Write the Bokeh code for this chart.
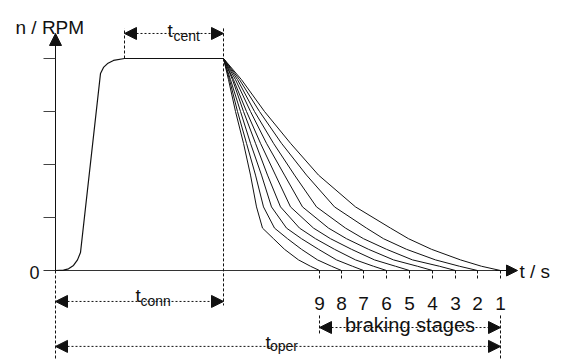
from bokeh.plotting import figure
from bokeh.models import Range1d, Arrow, NormalHead
from bokeh.core.properties import value
from bokeh.embed import file_html
from bokeh.resources import INLINE

# ---- data (t in s, n in % of full speed) ----
stage_labels = ["9", "8", "7", "6", "5", "4", "3", "2", "1"]
n_ticks = [25, 50, 75, 100]
startup_t = [0, 8, 13, 18, 22, 25, 45, 48, 52, 58, 69, 168]
startup_n = [0, 0.2, 0.8, 2.4, 5.0, 8.5, 92.9, 95.8, 97.6, 99.1, 100, 100]
t_plateau_start = 69
brake_levels = [100, 90, 75, 60, 45, 30, 20, 15, 10, 5, 2, 0]
brake_t_9 = [168, 173, 180, 188, 195, 201, 207, 218, 229, 243, 255, 264]
brake_t_8 = [168, 174, 182, 191, 200, 208, 219, 232, 246, 262, 276, 286]
brake_t_7 = [168, 175, 185, 195, 206, 216, 231, 246, 263, 281, 297, 308]
brake_t_6 = [168, 177, 188, 200, 212, 225, 244, 260, 279, 300, 318, 331]
brake_t_5 = [168, 178, 191, 205, 220, 235, 258, 275, 296, 319, 340, 354]
brake_t_4 = [168, 180, 195, 211, 229, 247, 273, 291, 313, 338, 362, 377]
brake_t_3 = [168, 182, 199, 218, 239, 261, 290, 308, 331, 357, 384, 400]
brake_t_2 = [168, 184, 204, 226, 251, 279, 311, 328, 351, 380, 404, 422]
brake_t_1 = [168, 186, 209, 235, 263, 300, 335, 353, 376, 405, 426, 445]
brake_curves = [brake_t_9, brake_t_8, brake_t_7, brake_t_6, brake_t_5,
                brake_t_4, brake_t_3, brake_t_2, brake_t_1]

t_brake_start = brake_t_9[0]
t_stops = [c[-1] for c in brake_curves]
n_max = max(startup_n)

W, H = 567, 360
p = figure(width=W, height=H, output_backend="svg", toolbar_location=None,
           x_range=Range1d(-55, W - 55), y_range=Range1d(-(H - 270) / 2.12, 270 / 2.12),
           min_border=0, outline_line_color=None)
p.axis.visible = False
p.grid.visible = False
p.background_fill_color = "white"
p.border_fill_color = "white"

FONT = value("Liberation Sans")
ink = "#111111"
y_bot = p.y_range.start

# axes
p.segment(x0=[0], y0=[0], x1=[0], y1=[108], line_color=ink, line_width=1)
p.add_layout(Arrow(x_start=0, y_start=100, x_end=0, y_end=111.8, line_color=ink,
                   end=NormalHead(size=12, fill_color=ink, line_color=ink), start=None))
p.segment(x0=[-12], y0=[0], x1=[455], y1=[0], line_color="#333333", line_width=1)
p.add_layout(Arrow(x_start=440, y_start=0, x_end=462, y_end=0, line_color=ink,
                   end=NormalHead(size=11, fill_color=ink, line_color=ink), start=None))
p.segment(x0=[-12] * len(n_ticks), y0=n_ticks, x1=[0] * len(n_ticks), y1=n_ticks,
          line_color="#444444", line_width=1)
p.text(x=[-16], y=[-1], text=["0"], text_font=FONT, text_font_size="18px",
       text_align="right", text_baseline="middle", text_color=ink)
p.text(x=[-40], y=[114.6], text=["n / RPM"], text_font=FONT, text_font_size="19px",
       text_align="left", text_baseline="alphabetic", text_color=ink)
p.text(x=[464], y=[-0.5], text=["t / s"], text_font=FONT, text_font_size="19px",
       text_align="left", text_baseline="middle", text_color=ink)

# curves
p.line(startup_t, startup_n, line_color=ink, line_width=1.2)
for c in brake_curves:
    p.line(c, brake_levels, line_color=ink, line_width=1)

# dashed guide lines
dash = "3 2"
top_guide = 114.2
p.segment(x0=[0], y0=[0], x1=[0], y1=[y_bot], line_color=ink, line_dash=dash)
p.segment(x0=[t_plateau_start], y0=[n_max], x1=[t_plateau_start], y1=[top_guide],
          line_color=ink, line_dash=dash)
p.segment(x0=[t_brake_start], y0=[top_guide], x1=[t_brake_start], y1=[-16.5],
          line_color=ink, line_dash=dash)
p.segment(x0=t_stops, y0=[0] * 9, x1=t_stops, y1=[-4.7] * 9, line_color=ink, line_dash=dash)
p.segment(x0=[t_stops[0]], y0=[-21.2], x1=[t_stops[0]], y1=[-29.7], line_color=ink, line_dash=dash)
p.segment(x0=[t_stops[-1]], y0=[-21.2], x1=[t_stops[-1]], y1=[y_bot], line_color=ink, line_dash=dash)

# stage labels
p.text(x=t_stops, y=[-15.6] * 9, text=stage_labels, text_font=FONT, text_font_size="19px",
       text_align="center", text_baseline="alphabetic", text_color=ink)

def dim(x0, x1, y):
    p.add_layout(Arrow(x_start=x0, y_start=y, x_end=x1, y_end=y, line_color=ink,
                       line_width=1, line_dash="2 2",
                       start=NormalHead(size=12, fill_color=ink, line_color=ink),
                       end=NormalHead(size=12, fill_color=ink, line_color=ink)))

def sublabel(x, y, sub, y_sub, x_sub):
    p.text(x=[x], y=[y], text=["t"], text_font=FONT, text_font_size="19px",
           text_align="left", text_baseline="alphabetic", text_color=ink)
    p.text(x=[x_sub], y=[y_sub], text=[sub], text_font=FONT, text_font_size="14px",
           text_align="left", text_baseline="alphabetic", text_color=ink)

dim(t_plateau_start, t_brake_start, 111.8)
sublabel(112, 113.4, "cent", 110.6, 118)
dim(0, t_brake_start, -14.6)
sublabel(80, -11.8, "conn", -14.2, 85)
dim(t_stops[0], t_stops[-1], -26.9)
p.text(x=[(t_stops[0] + t_stops[-1]) / 2], y=[-25.5], text=["braking stages"], text_font=FONT,
       text_font_size="20px", text_align="center", text_baseline="alphabetic", text_color=ink)
dim(0, t_stops[-1], -35.8)
sublabel(210, -34.0, "oper", -35.4, 214.5)

open("out.html", "w").write(file_html(p, INLINE))
